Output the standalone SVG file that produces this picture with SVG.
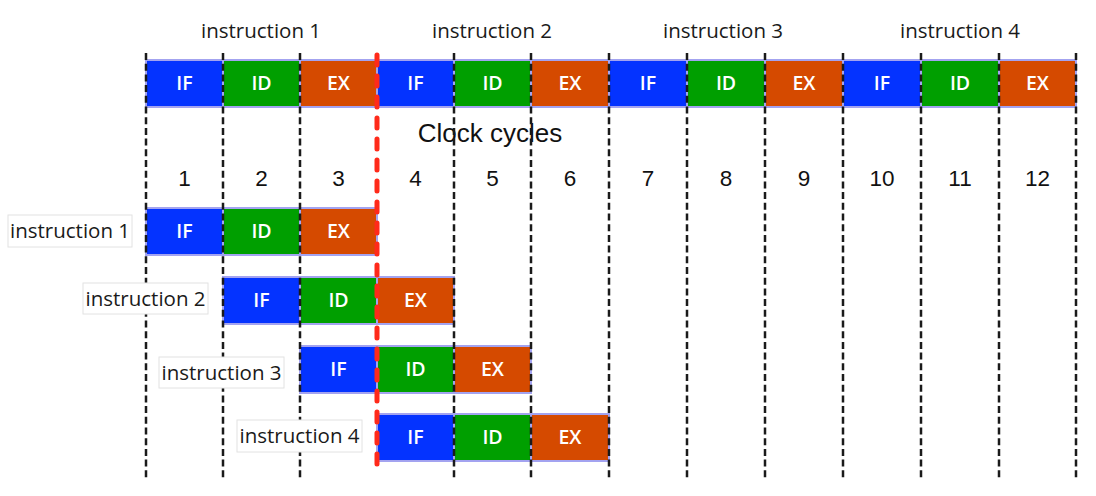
<svg xmlns="http://www.w3.org/2000/svg" width="1096" height="496" viewBox="0 0 1096 496">
<style>
.if{fill:#0433ff}
.id{fill:#009f00}
.ex{fill:#d54a00}
.cell{stroke:#a3a3f0;stroke-width:2}
.ct{font-family:"Open Sans","Liberation Sans",sans-serif;font-size:19.5px;font-weight:600;fill:#fff;text-anchor:middle}
.lab{font-family:"Open Sans","Liberation Sans",sans-serif;font-size:20.5px;fill:#1a1a1a;text-anchor:middle}
.box{fill:#fff;stroke:#e2e2e2;stroke-width:1}
.num{font-family:"Liberation Sans",Arial,sans-serif;font-size:22.5px;fill:#111;text-anchor:middle}
.grid{stroke:#1a1a1a;stroke-width:2.5;stroke-dasharray:7 3.7;fill:none}
.red{stroke:#ff2a1a;stroke-width:5;stroke-dasharray:10 11;stroke-linecap:round;fill:none}
</style>
<rect width="1096" height="496" fill="#fff"/>

<g id="top-labels">
<text class="lab" x="261" y="38">instruction 1</text>
<text class="lab" x="492" y="38">instruction 2</text>
<text class="lab" x="723" y="38">instruction 3</text>
<text class="lab" x="960" y="38">instruction 4</text>
</g>

<g id="top-bar">
<rect class="cell if" x="146" y="60" width="77" height="47"/><text class="ct" x="184.5" y="90">IF</text>
<rect class="cell id" x="223" y="60" width="77" height="47"/><text class="ct" x="261.5" y="90">ID</text>
<rect class="cell ex" x="300" y="60" width="77" height="47"/><text class="ct" x="338.5" y="90">EX</text>
<rect class="cell if" x="377" y="60" width="77" height="47"/><text class="ct" x="415.5" y="90">IF</text>
<rect class="cell id" x="454" y="60" width="77" height="47"/><text class="ct" x="492.5" y="90">ID</text>
<rect class="cell ex" x="531" y="60" width="78" height="47"/><text class="ct" x="570" y="90">EX</text>
<rect class="cell if" x="609" y="60" width="78" height="47"/><text class="ct" x="648" y="90">IF</text>
<rect class="cell id" x="687" y="60" width="78" height="47"/><text class="ct" x="726" y="90">ID</text>
<rect class="cell ex" x="765" y="60" width="78" height="47"/><text class="ct" x="804" y="90">EX</text>
<rect class="cell if" x="843" y="60" width="78" height="47"/><text class="ct" x="882" y="90">IF</text>
<rect class="cell id" x="921" y="60" width="78" height="47"/><text class="ct" x="960" y="90">ID</text>
<rect class="cell ex" x="999" y="60" width="77" height="47"/><text class="ct" x="1037.5" y="90">EX</text>
</g>

<g id="clock">
<text class="num" x="490" y="142" style="font-size:26px">Clock cycles</text>
<text class="num" x="184.5" y="186">1</text>
<text class="num" x="261.5" y="186">2</text>
<text class="num" x="338.5" y="186">3</text>
<text class="num" x="415.5" y="186">4</text>
<text class="num" x="492.5" y="186">5</text>
<text class="num" x="570" y="186">6</text>
<text class="num" x="648" y="186">7</text>
<text class="num" x="726" y="186">8</text>
<text class="num" x="804" y="186">9</text>
<text class="num" x="882" y="186">10</text>
<text class="num" x="960" y="186">11</text>
<text class="num" x="1037.5" y="186">12</text>
</g>

<g id="row1">
<rect class="cell if" x="146" y="208" width="77" height="47"/><text class="ct" x="184.5" y="238">IF</text>
<rect class="cell id" x="223" y="208" width="77" height="47"/><text class="ct" x="261.5" y="238">ID</text>
<rect class="cell ex" x="300" y="208" width="77" height="47"/><text class="ct" x="338.5" y="238">EX</text>
</g>
<g id="row2">
<rect class="cell if" x="223" y="277" width="77" height="47"/><text class="ct" x="261.5" y="307">IF</text>
<rect class="cell id" x="300" y="277" width="77" height="47"/><text class="ct" x="338.5" y="307">ID</text>
<rect class="cell ex" x="377" y="277" width="77" height="47"/><text class="ct" x="415.5" y="307">EX</text>
</g>
<g id="row3">
<rect class="cell if" x="300" y="346" width="77" height="47"/><text class="ct" x="338.5" y="376">IF</text>
<rect class="cell id" x="377" y="346" width="77" height="47"/><text class="ct" x="415.5" y="376">ID</text>
<rect class="cell ex" x="454" y="346" width="77" height="47"/><text class="ct" x="492.5" y="376">EX</text>
</g>
<g id="row4">
<rect class="cell if" x="377" y="414" width="77" height="47"/><text class="ct" x="415.5" y="444">IF</text>
<rect class="cell id" x="454" y="414" width="77" height="47"/><text class="ct" x="492.5" y="444">ID</text>
<rect class="cell ex" x="531" y="414" width="78" height="47"/><text class="ct" x="570" y="444">EX</text>
</g>

<g id="connectors">
<path class="grid" d="M146 53V478M223 53V478M300 53V478M454 53V478M531 53V478M609 53V478M687 53V478M765 53V478M843 53V478M921 53V478M999 53V478M1076 53V478"/>
</g>

<g id="label1"><rect class="box" x="8" y="215" width="124" height="32"/><text class="lab" x="70" y="238">instruction 1</text></g>
<g id="label2"><rect class="box" x="83" y="283" width="125" height="31"/><text class="lab" x="145.5" y="306">instruction 2</text></g>
<g id="label3"><rect class="box" x="159" y="357" width="125" height="31"/><text class="lab" x="221.5" y="380">instruction 3</text></g>
<g id="label4"><rect class="box" x="237" y="420" width="125" height="32"/><text class="lab" x="299.5" y="443">instruction 4</text></g>

<g id="stall-line">
<path class="red" d="M377 55V473"/>
</g>
</svg>
